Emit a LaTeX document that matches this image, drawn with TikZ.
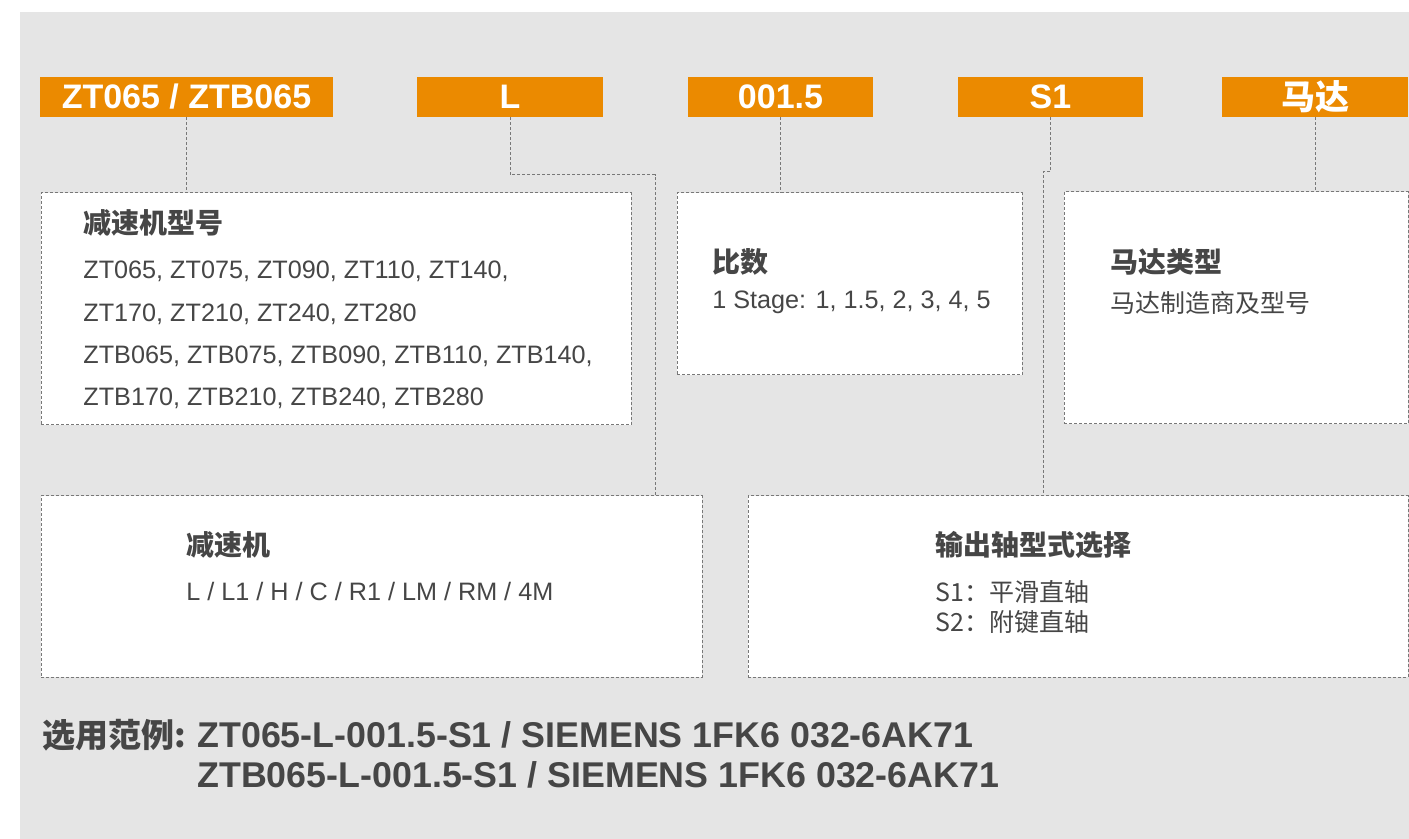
\documentclass[tikz,border=0pt]{standalone}
\usepackage{fontspec}
\setmainfont{Liberation Sans}
\newfontfamily\cjk{Noto Sans CJK SC}
\usetikzlibrary{fit}
\definecolor{tagorange}{RGB}{235,138,0}
\definecolor{panelgray}{RGB}{229,229,229}
\definecolor{inkgray}{RGB}{70,70,70}
\definecolor{linegray}{RGB}{120,120,120}

\begin{document}
\begin{tikzpicture}[x=0.5pt, y=-0.5pt,
  tag/.style={fill=tagorange, inner sep=0pt, text=white, minimum height=20pt,
              font=\fontsize{17pt}{20pt}\selectfont\bfseries},
  infobox/.style={draw=linegray, fill=white, line width=0.5pt,
                  dash pattern=on 1.5pt off 1pt, inner sep=0pt},
  link/.style={draw=linegray, line width=0.5pt, dash pattern=on 1.5pt off 1pt},
  head/.style={anchor=west, inner sep=0pt, text=inkgray,
               font=\cjk\bfseries\fontsize{14pt}{17pt}\selectfont},
  body/.style={anchor=west, inner sep=0pt, text=inkgray,
               font=\fontsize{12.6pt}{21.15pt}\selectfont, align=left},
  cjkbody/.style={body, font=\cjk\fontsize{12.5pt}{15pt}\selectfont},
  sample/.style={anchor=west, inner sep=0pt, text=inkgray,
                 font=\bfseries\fontsize{17.9pt}{22pt}\selectfont}]
  % page and grey panel
  \useasboundingbox (0,0) rectangle (1409,839);
  \fill[panelgray] (20,12) rectangle (1409,839);

  % orange code tags
  \node[tag, minimum width=146.5pt] (tZT) at (186.5,97) {ZT065 / ZTB065};
  \node[tag, minimum width=93pt] (tL) at (510,97) {L};
  \node[tag, minimum width=92.5pt] (tR) at (780.5,97) {001.5};
  \node[tag, minimum width=92.5pt] (tS) at (1050.5,97) {S1};
  \node[tag, minimum width=93pt,
        font=\cjk\bfseries\fontsize{17pt}{20pt}\selectfont] (tM) at (1315,97) {马达};

  % description boxes
  \node[infobox, fit={(41,193) (631,425)}] (mdl) {};
  \node[infobox, fit={(677,193) (1022,375)}] (rat) {};
  \node[infobox, fit={(1064,192) (1408,424)}] (mot) {};
  \node[infobox, fit={(41,496) (702,677)}] (red) {};
  \node[infobox, fit={(748,496) (1408,677)}] (sft) {};

  % connectors
  \draw[link] (tZT.south) -- (tZT.south |- mdl.north);
  \coordinate (bendL) at (655,175);
  \draw[link] (tL.south) |- (bendL) -- (bendL |- red.north);
  \draw[link] (tR.south) -- (tR.south |- rat.north);
  \coordinate (bendS) at (1043,172);
  \draw[link] (tS.south) |- (bendS) -- (bendS |- sft.north);
  \draw[link] (tM.south) -- (tM.south |- mot.north);

  % box texts
  \node[head] (mdlhead) at (83,223) {减速机型号};
  \node[body, anchor=north west] (mdlbody) at (83,261)
       {ZT065, ZT075, ZT090, ZT110, ZT140,\\
        ZT170, ZT210, ZT240, ZT280\\
        ZTB065, ZTB075, ZTB090, ZTB110, ZTB140,\\
        ZTB170, ZTB210, ZTB240, ZTB280};
  \node[head] (rathead) at (712,262) {比数};
  \node[body] (ratbody) at (712,302) {1 Stage: 1, 1.5, 2, 3, 4, 5};
  \node[head] (mothead) at (1110,262) {马达类型};
  \node[cjkbody] (motbody) at (1110,303) {马达制造商及型号};
  \node[head] (redhead) at (186,545) {减速机};
  \node[body] (redbody) at (186,591) {L / L1 / H / C / R1 / LM / RM / 4M};
  \node[head] (sfthead) at (935,545) {输出轴型式选择};
  \node[cjkbody] (sftone) at (935,592) {S1：平滑直轴};
  \node[cjkbody] (sfttwo) at (935,622) {S2：附键直轴};

  % ordering example
  \node[sample, font=\cjk\bfseries\fontsize{16.5pt}{20pt}\selectfont]
       (exlbl) at (42,735) {选用范例:};
  \node[sample] (exone) at (197,735) {ZT065-L-001.5-S1 / SIEMENS 1FK6 032-6AK71};
  \node[sample] (extwo) at (197,775) {ZTB065-L-001.5-S1 / SIEMENS 1FK6 032-6AK71};
\end{tikzpicture}
\end{document}
